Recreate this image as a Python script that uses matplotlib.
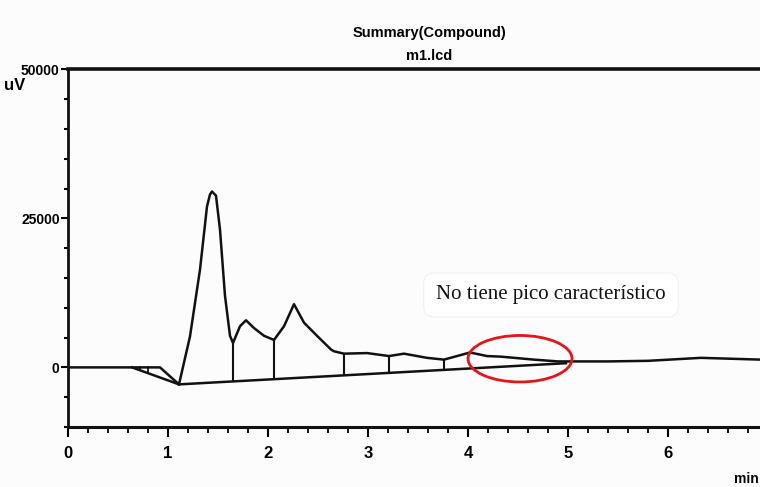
import matplotlib
matplotlib.use("Agg")
import matplotlib.pyplot as plt
import numpy as np
from matplotlib.patches import Ellipse
from matplotlib.ticker import MultipleLocator

# chromatogram trace (time in min, signal in uV)
time_min = [0.00, 0.60, 0.92, 1.11, 1.22, 1.32, 1.39, 1.42, 1.44, 1.48, 1.52, 1.57,
            1.62, 1.65, 1.72, 1.78, 1.86, 1.96, 2.06, 2.16, 2.26, 2.36, 2.49, 2.63,
            2.66, 2.76, 2.99, 3.21, 3.36, 3.59, 3.76, 4.02, 4.19, 4.33, 4.66, 4.90,
            5.40, 5.80, 6.33, 6.93]
signal_uv = [0, 0, 0, -2850, 5200, 16400, 27000, 29000, 29500, 28800, 23100, 12000,
             5300, 4100, 6900, 7900, 6600, 5300, 4600, 6900, 10600, 7500, 5300, 3000,
             2700, 2300, 2400, 1900, 2300, 1600, 1300, 2500, 1900, 1800, 1300, 1000,
             1000, 1100, 1600, 1300]

# integration baselines drawn by the data system
base_early_t = [0.64, 1.11]
base_early_v = [0, -2850]
base_main_t = [1.11, 4.98]
base_main_v = [-2850, 700]

# peak separation (drop) lines
drop_early = [0.72, 0.80]
drop_main = [1.65, 2.06, 2.76, 3.21, 3.76]

y_ticks = [0, 25000, 50000]
x_ticks = [0, 1, 2, 3, 4, 5, 6]

title_lines = ["Summary(Compound)", "m1.lcd"]
note = "No tiene pico característico"

# ellipse around the region without a peak
ell_center = (4.52, 1450)
ell_size = (1.04, 7800)

sans = ["Liberation Sans", "DejaVu Sans"]

fig = plt.figure(figsize=(7.6, 4.87), dpi=100, facecolor="#fcfcfc")
ax = fig.add_axes([68 / 760, 60 / 487, 692 / 760, 357.7 / 487])
ax.set_facecolor("#fcfcfc")

ink = "#111111"
ax.plot(time_min, signal_uv, color=ink, lw=1.8, solid_joinstyle="round")
ax.plot(base_early_t, base_early_v, color=ink, lw=1.8)
ax.plot(base_main_t, base_main_v, color=ink, lw=1.8)

for t in drop_early:
    top = np.interp(t, time_min, signal_uv)
    bot = np.interp(t, base_early_t, base_early_v)
    ax.plot([t, t], [top, bot], color=ink, lw=1.3)
for t in drop_main:
    top = np.interp(t, time_min, signal_uv)
    bot = np.interp(t, base_main_t, base_main_v)
    ax.plot([t, t], [top, bot], color=ink, lw=1.5)

ax.set_xlim(0, 6.92)
ax.set_ylim(-10000, 50000)

ax.set_xticks(x_ticks)
ax.xaxis.set_minor_locator(MultipleLocator(0.2))
ax.set_yticks(y_ticks)
ax.yaxis.set_minor_locator(MultipleLocator(5000))
ax.tick_params(axis="x", which="major", direction="out", length=7, width=1.5, pad=7)
ax.tick_params(axis="x", which="minor", direction="out", length=4, width=1.3)
ax.tick_params(axis="y", which="major", direction="out", length=5, width=1.5, pad=1)
ax.tick_params(axis="y", which="minor", direction="out", length=3, width=1.5)
for lab in ax.get_xticklabels():
    lab.set_family(sans)
    lab.set_fontweight("bold")
    lab.set_fontsize(12)
for lab in ax.get_yticklabels():
    lab.set_family(sans)
    lab.set_fontweight("bold")
    lab.set_fontsize(10)

ax.spines["right"].set_visible(False)
ax.spines["top"].set_linewidth(2.6)
ax.spines["left"].set_linewidth(2.0)
ax.spines["bottom"].set_linewidth(2.2)
for s in ("top", "left", "bottom"):
    ax.spines[s].set_color(ink)

fig.text(429 / 760, 1 - 33 / 487, title_lines[0], ha="center", va="center",
         family=sans, fontweight="bold", fontsize=10.5)
fig.text(429 / 760, 1 - 56 / 487, title_lines[1], ha="center", va="center",
         family=sans, fontweight="bold", fontsize=10.5)
fig.text(15 / 760, 1 - 85 / 487, "uV", ha="center", va="center",
         family=sans, fontweight="bold", fontsize=12)
fig.text(759 / 760, 1 - 479 / 487, "min", ha="right", va="center",
         family=sans, fontweight="bold", fontsize=10)

ax.add_patch(Ellipse(ell_center, ell_size[0], ell_size[1], fill=False,
                     edgecolor="#e3141b", lw=2.0, zorder=5))

fig.text(551 / 760, 1 - 295 / 487, note, ha="center", va="center",
         family=["Liberation Serif", "DejaVu Serif"], fontsize=15, color="#111111",
         bbox=dict(boxstyle="round,pad=0.6,rounding_size=0.5", facecolor="white",
                   edgecolor="#f0f0f0", lw=0.8))

fig.savefig("out.png", dpi=100, facecolor=fig.get_facecolor())
